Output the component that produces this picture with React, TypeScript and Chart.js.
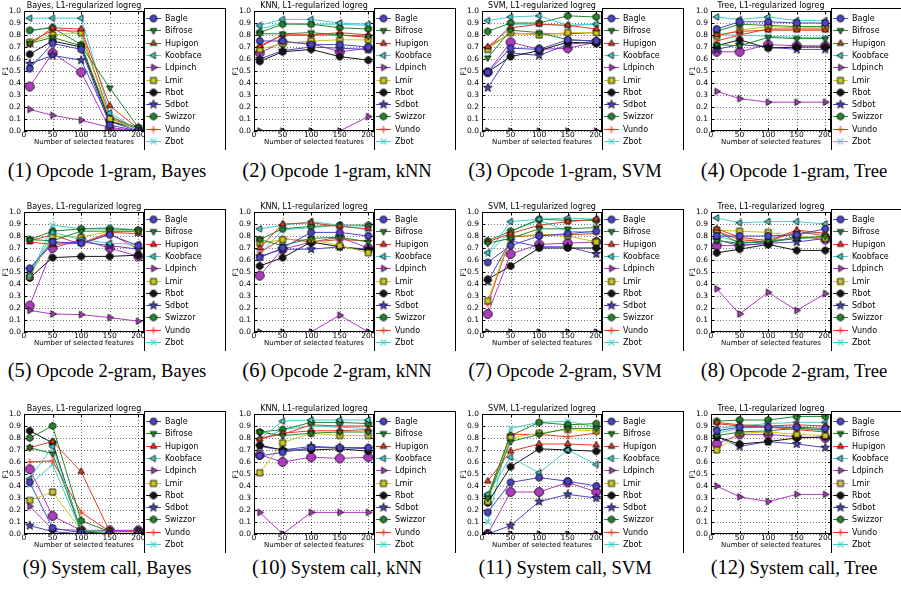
import React, { useEffect, useRef } from 'react';
import { Chart, registerables } from 'chart.js';

Chart.register(...registerables);

// ---------- data ----------
const featureCounts = [10, 50, 100, 150, 200];
const xTickValues = [0, 50, 100, 150, 200];
const yTickValues = [0, 0.1, 0.2, 0.3, 0.4, 0.5, 0.6, 0.7, 0.8, 0.9, 1.0];

const familyNames = ['Bagle', 'Bifrose', 'Hupigon', 'Koobface', 'Ldpinch', 'Lmir', 'Rbot', 'Sdbot', 'Swizzor', 'Vundo', 'Zbot', 'Family 12'];
const legendCount = 11; // the 12th legend entry is cut off in the original figure

const panelTitles = ['Bayes, L1-regularized logreg', 'KNN, L1-regularized logreg', 'SVM, L1-regularized logreg', 'Tree, L1-regularized logreg'];
const featureSets = ['Opcode 1-gram', 'Opcode 2-gram', 'System call'];
const classifierNames = ['Bayes', 'kNN', 'SVM', 'Tree'];

// rows: Bagle, Bifrose, Hupigon, Koobface, Ldpinch, Lmir, Rbot, Sdbot, Swizzor, Vundo, Zbot, Family 12
const opcode1Bayes = [
  [0.52, 0.73, 0.68, 0.05, 0.0],
  [0.73, 0.78, 0.71, 0.36, 0.03],
  [0.72, 0.86, 0.85, 0.21, 0.02],
  [0.94, 0.94, 0.94, 0.15, 0.01],
  [0.18, 0.13, 0.09, 0.03, 0.0],
  [0.74, 0.80, 0.82, 0.10, 0.01],
  [0.64, 0.75, 0.70, 0.08, 0.02],
  [0.56, 0.63, 0.59, 0.08, 0.0],
  [0.84, 0.86, 0.72, 0.10, 0.03],
  [0.74, 0.84, 0.83, 0.12, 0.02],
  [0.83, 0.87, 0.80, 0.13, 0.01],
  [0.37, 0.65, 0.49, 0.02, 0.0],
];
const opcode1Knn = [
  [0.75, 0.75, 0.72, 0.72, 0.70],
  [0.81, 0.81, 0.82, 0.80, 0.79],
  [0.71, 0.80, 0.80, 0.82, 0.80],
  [0.88, 0.93, 0.93, 0.90, 0.89],
  [0.0, 0.0, 0.0, 0.0, 0.12],
  [0.68, 0.73, 0.75, 0.76, 0.76],
  [0.58, 0.66, 0.68, 0.62, 0.59],
  [0.60, 0.67, 0.70, 0.69, 0.68],
  [0.82, 0.89, 0.89, 0.86, 0.85],
  [0.70, 0.80, 0.80, 0.80, 0.78],
  [0.85, 0.90, 0.89, 0.89, 0.88],
  [0.65, 0.74, 0.73, 0.66, 0.69],
];
const opcode1Svm = [
  [0.49, 0.69, 0.68, 0.76, 0.75],
  [0.61, 0.84, 0.82, 0.76, 0.75],
  [0.70, 0.86, 0.89, 0.88, 0.85],
  [0.92, 0.95, 0.96, 0.88, 0.89],
  [0.0, 0.0, 0.0, 0.0, 0.0],
  [0.68, 0.82, 0.80, 0.82, 0.82],
  [0.49, 0.62, 0.67, 0.74, 0.73],
  [0.36, 0.65, 0.63, 0.72, 0.75],
  [0.83, 0.90, 0.90, 0.96, 0.95],
  [0.70, 0.81, 0.81, 0.81, 0.82],
  [0.67, 0.89, 0.89, 0.88, 0.89],
  [0.49, 0.74, 0.68, 0.69, 0.74],
];
const opcode1Tree = [
  [0.85, 0.91, 0.91, 0.90, 0.90],
  [0.72, 0.71, 0.78, 0.77, 0.77],
  [0.80, 0.83, 0.84, 0.84, 0.84],
  [0.95, 0.93, 0.95, 0.92, 0.92],
  [0.33, 0.27, 0.24, 0.24, 0.24],
  [0.79, 0.84, 0.87, 0.86, 0.86],
  [0.71, 0.76, 0.69, 0.70, 0.70],
  [0.68, 0.72, 0.70, 0.68, 0.68],
  [0.83, 0.89, 0.88, 0.87, 0.87],
  [0.75, 0.80, 0.85, 0.85, 0.85],
  [0.80, 0.80, 0.79, 0.78, 0.78],
  [0.66, 0.66, 0.72, 0.71, 0.71],
];
const opcode2Bayes = [
  [0.53, 0.75, 0.74, 0.81, 0.72],
  [0.77, 0.76, 0.84, 0.84, 0.84],
  [0.75, 0.73, 0.74, 0.83, 0.82],
  [0.47, 0.83, 0.77, 0.74, 0.73],
  [0.18, 0.15, 0.145, 0.12, 0.09],
  [0.46, 0.80, 0.79, 0.84, 0.84],
  [0.45, 0.62, 0.63, 0.63, 0.64],
  [0.52, 0.74, 0.75, 0.72, 0.69],
  [0.77, 0.84, 0.86, 0.86, 0.85],
  [0.76, 0.81, 0.73, 0.82, 0.69],
  [0.46, 0.89, 0.86, 0.87, 0.85],
  [0.22, 0.70, 0.77, 0.70, 0.63],
];
const opcode2Knn = [
  [0.62, 0.70, 0.83, 0.83, 0.80],
  [0.77, 0.72, 0.78, 0.79, 0.75],
  [0.70, 0.90, 0.91, 0.88, 0.86],
  [0.86, 0.89, 0.92, 0.89, 0.88],
  [0.0, 0.0, 0.0, 0.14, 0.0],
  [0.74, 0.77, 0.77, 0.72, 0.66],
  [0.55, 0.62, 0.75, 0.71, 0.68],
  [0.63, 0.69, 0.69, 0.71, 0.69],
  [0.77, 0.86, 0.88, 0.89, 0.89],
  [0.66, 0.78, 0.75, 0.77, 0.76],
  [0.65, 0.85, 0.87, 0.89, 0.85],
  [0.47, 0.69, 0.75, 0.79, 0.70],
];
const opcode2Svm = [
  [0.58, 0.72, 0.80, 0.82, 0.84],
  [0.74, 0.78, 0.86, 0.86, 0.87],
  [0.75, 0.82, 0.89, 0.92, 0.94],
  [0.66, 0.92, 0.94, 0.95, 0.94],
  [0.0, 0.0, 0.0, 0.0, 0.0],
  [0.26, 0.80, 0.81, 0.80, 0.75],
  [0.44, 0.55, 0.70, 0.70, 0.70],
  [0.42, 0.76, 0.71, 0.71, 0.65],
  [0.76, 0.84, 0.94, 0.93, 0.93],
  [0.23, 0.79, 0.81, 0.81, 0.82],
  [0.65, 0.84, 0.93, 0.84, 0.83],
  [0.15, 0.65, 0.73, 0.74, 0.75],
];
const opcode2Tree = [
  [0.80, 0.80, 0.80, 0.81, 0.86],
  [0.76, 0.74, 0.76, 0.78, 0.80],
  [0.86, 0.79, 0.76, 0.85, 0.82],
  [0.95, 0.91, 0.92, 0.92, 0.90],
  [0.36, 0.15, 0.33, 0.18, 0.32],
  [0.85, 0.84, 0.83, 0.80, 0.78],
  [0.66, 0.69, 0.73, 0.68, 0.68],
  [0.77, 0.72, 0.74, 0.75, 0.78],
  [0.84, 0.74, 0.75, 0.78, 0.79],
  [0.84, 0.77, 0.75, 0.84, 0.80],
  [0.80, 0.75, 0.78, 0.82, 0.83],
  [0.72, 0.72, 0.74, 0.80, 0.77],
];
const syscallBayes = [
  [0.43, 0.05, 0.01, 0.0, 0.0],
  [0.72, 0.67, 0.03, 0.0, 0.0],
  [0.72, 0.77, 0.52, 0.02, 0.02],
  [0.46, 0.73, 0.03, 0.02, 0.02],
  [0.23, 0.04, 0.03, 0.03, 0.03],
  [0.28, 0.35, 0.03, 0.02, 0.02],
  [0.86, 0.76, 0.02, 0.0, 0.0],
  [0.07, 0.02, 0.0, 0.0, 0.0],
  [0.80, 0.90, 0.11, 0.02, 0.02],
  [0.60, 0.61, 0.18, 0.02, 0.02],
  [0.41, 0.58, 0.02, 0.02, 0.02],
  [0.54, 0.15, 0.03, 0.03, 0.03],
];
const syscallKnn = [
  [0.65, 0.68, 0.72, 0.72, 0.72],
  [0.85, 0.82, 0.84, 0.85, 0.85],
  [0.79, 0.84, 0.86, 0.86, 0.87],
  [0.79, 0.94, 0.95, 0.95, 0.95],
  [0.18, 0.0, 0.18, 0.18, 0.18],
  [0.51, 0.76, 0.84, 0.82, 0.82],
  [0.74, 0.70, 0.70, 0.71, 0.69],
  [0.73, 0.70, 0.73, 0.72, 0.71],
  [0.85, 0.87, 0.93, 0.93, 0.92],
  [0.80, 0.83, 0.91, 0.90, 0.90],
  [0.78, 0.87, 0.90, 0.89, 0.88],
  [0.66, 0.60, 0.64, 0.63, 0.64],
];
const syscallSvm = [
  [0.18, 0.43, 0.47, 0.44, 0.40],
  [0.30, 0.77, 0.83, 0.88, 0.88],
  [0.44, 0.69, 0.75, 0.75, 0.74],
  [0.33, 0.64, 0.51, 0.70, 0.58],
  [0.0, 0.0, 0.0, 0.0, 0.0],
  [0.27, 0.80, 0.84, 0.87, 0.86],
  [0.26, 0.56, 0.71, 0.70, 0.69],
  [0.0, 0.07, 0.27, 0.33, 0.30],
  [0.32, 0.82, 0.93, 0.91, 0.92],
  [0.31, 0.83, 0.83, 0.81, 0.84],
  [0.10, 0.88, 0.93, 0.94, 0.89],
  [0.0, 0.35, 0.35, 0.43, 0.35],
];
const syscallTree = [
  [0.86, 0.89, 0.89, 0.89, 0.88],
  [0.82, 0.85, 0.86, 0.88, 0.87],
  [0.93, 0.91, 0.90, 0.91, 0.90],
  [0.88, 0.90, 0.92, 0.93, 0.93],
  [0.40, 0.31, 0.27, 0.33, 0.33],
  [0.70, 0.84, 0.85, 0.83, 0.82],
  [0.81, 0.75, 0.77, 0.80, 0.81],
  [0.81, 0.73, 0.77, 0.75, 0.72],
  [0.94, 0.95, 0.95, 0.98, 0.98],
  [0.92, 0.90, 0.89, 0.87, 0.85],
  [0.84, 0.88, 0.90, 0.88, 0.86],
  [0.75, 0.83, 0.83, 0.81, 0.80],
];

const panelData = [
  [opcode1Bayes, opcode1Knn, opcode1Svm, opcode1Tree],
  [opcode2Bayes, opcode2Knn, opcode2Svm, opcode2Tree],
  [syscallBayes, syscallKnn, syscallSvm, syscallTree],
];

// ---------- styling ----------
const BLUE = '#4b45c8';
const GREEN = '#23882a';
const RED = '#e6391f';
const CYAN = '#45cfcf';
const MAGENTA = '#ad3cbf';
const YELLOW = '#c9c81e';
const BLACK = '#141414';
const familyColors = [BLUE, GREEN, RED, CYAN, MAGENTA, YELLOW, BLACK, BLUE, GREEN, RED, CYAN, MAGENTA];
const familyMarkers = ['circle', 'triDown', 'triUp', 'triLeft', 'triRight', 'square', 'octagon', 'star', 'hexagon', 'plus', 'cross', 'octagonBig'];

const FONT = '"DejaVu Sans", Verdana, sans-serif';
const CW = 230; // canvas width
const CH = 150; // canvas height
const PLOT_LEFT = 24;
const PLOT_TOP = 11;
const PLOT_RIGHT = 144;
const PLOT_BOTTOM = 131;
const X_AXIS_H = 18;
const X_MAX = 210;
const colLefts = [0, 230, 458, 687];
const rowTops = [0, 201, 403];
const captionTops = [159, 359, 556];

function makeMarker(kind: string, color: string): HTMLCanvasElement {
  const big = kind === 'octagonBig';
  const size = big ? 9 : kind === 'star' ? 8.6 : kind === 'square' ? 6 : 6.9;
  const s = 14;
  const c = document.createElement('canvas');
  c.width = s;
  c.height = s;
  const ctx = c.getContext('2d')!;
  const cx = s / 2;
  const cy = s / 2;
  const r = size / 2;
  ctx.lineWidth = 0.8;
  ctx.strokeStyle = '#000';
  ctx.fillStyle = color;
  const poly = (n: number, start: number, rad: number) => {
    ctx.beginPath();
    for (let k = 0; k < n; k++) {
      const a = start + (k * 2 * Math.PI) / n;
      const px = cx + rad * Math.cos(a);
      const py = cy + rad * Math.sin(a);
      if (k === 0) ctx.moveTo(px, py);
      else ctx.lineTo(px, py);
    }
    ctx.closePath();
  };
  if (kind === 'plus' || kind === 'cross') {
    ctx.strokeStyle = color;
    ctx.lineWidth = 1.1;
    ctx.beginPath();
    if (kind === 'plus') {
      ctx.moveTo(cx - r, cy); ctx.lineTo(cx + r, cy);
      ctx.moveTo(cx, cy - r); ctx.lineTo(cx, cy + r);
    } else {
      const d = r * 0.8;
      ctx.moveTo(cx - d, cy - d); ctx.lineTo(cx + d, cy + d);
      ctx.moveTo(cx - d, cy + d); ctx.lineTo(cx + d, cy - d);
    }
    ctx.stroke();
    return c;
  }
  switch (kind) {
    case 'circle':
      ctx.beginPath();
      ctx.arc(cx, cy, r, 0, Math.PI * 2);
      break;
    case 'triUp': poly(3, -Math.PI / 2, r * 1.1); break;
    case 'triDown': poly(3, Math.PI / 2, r * 1.1); break;
    case 'triLeft': poly(3, Math.PI, r * 1.1); break;
    case 'triRight': poly(3, 0, r * 1.1); break;
    case 'square': poly(4, Math.PI / 4, r * Math.SQRT2); break;
    case 'hexagon': poly(6, -Math.PI / 2, r * 1.05); break;
    case 'octagon':
    case 'octagonBig': poly(8, Math.PI / 8, r * 1.04); break;
    case 'star': {
      ctx.beginPath();
      for (let k = 0; k < 10; k++) {
        const a = -Math.PI / 2 + (k * Math.PI) / 5;
        const rad = k % 2 === 0 ? r * 1.05 : r * 0.42;
        const px = cx + rad * Math.cos(a);
        const py = cy + rad * Math.sin(a);
        if (k === 0) ctx.moveTo(px, py);
        else ctx.lineTo(px, py);
      }
      ctx.closePath();
      break;
    }
  }
  ctx.fill();
  ctx.stroke();
  return c;
}

let spriteCache: HTMLCanvasElement[] | null = null;
function getSprites(): HTMLCanvasElement[] {
  if (!spriteCache) spriteCache = familyMarkers.map((m, i) => makeMarker(m, familyColors[i]));
  return spriteCache;
}

function makeDecorPlugin(title: string) {
  return {
    id: 'decor',
    beforeDatasetsDraw(chart: any) {
      const { ctx, chartArea: a, scales } = chart;
      const xs = scales.x;
      const ys = scales.y;
      ctx.save();
      ctx.strokeStyle = 'rgba(0,0,0,0.55)';
      ctx.lineWidth = 1;
      ctx.setLineDash([1, 2]);
      ctx.beginPath();
      xTickValues.forEach((v) => {
        const px = Math.round(xs.getPixelForValue(v)) + 0.5;
        ctx.moveTo(px, a.top);
        ctx.lineTo(px, a.bottom);
      });
      yTickValues.forEach((v) => {
        const py = Math.round(ys.getPixelForValue(v)) + 0.5;
        ctx.moveTo(a.left, py);
        ctx.lineTo(a.right, py);
      });
      ctx.stroke();
      ctx.setLineDash([]);
      ctx.restore();
    },
    afterDraw(chart: any) {
      const { ctx, chartArea: a, scales } = chart;
      const xs = scales.x;
      const ys = scales.y;
      ctx.save();
      // inward tick marks
      ctx.strokeStyle = '#000';
      ctx.lineWidth = 1;
      ctx.beginPath();
      xTickValues.forEach((v) => {
        const px = Math.round(xs.getPixelForValue(v)) + 0.5;
        ctx.moveTo(px, a.bottom); ctx.lineTo(px, a.bottom - 3);
        ctx.moveTo(px, a.top); ctx.lineTo(px, a.top + 3);
      });
      yTickValues.forEach((v) => {
        const py = Math.round(ys.getPixelForValue(v)) + 0.5;
        ctx.moveTo(a.left, py); ctx.lineTo(a.left + 3, py);
        ctx.moveTo(a.right, py); ctx.lineTo(a.right - 3, py);
      });
      ctx.stroke();
      // frame
      ctx.strokeRect(Math.round(a.left) + 0.5, Math.round(a.top) + 0.5, Math.round(a.width) - 1, Math.round(a.height) - 1);
      // title
      ctx.fillStyle = '#000';
      ctx.font = `8px ${FONT}`;
      ctx.textAlign = 'center';
      ctx.textBaseline = 'middle';
      ctx.fillText(title, (a.left + a.right) / 2, a.top - 5.5);
      // legend
      const lx = Math.round(a.right);
      const ly = Math.round(a.top) - 3;
      const lw = 82;
      ctx.fillStyle = '#fff';
      ctx.fillRect(lx, ly, lw, CH - ly + 2);
      ctx.strokeStyle = '#000';
      ctx.strokeRect(lx + 0.5, ly + 0.5, lw - 1, CH - ly + 4);
      const sprites = getSprites();
      for (let i = 0; i < legendCount; i++) {
        const ey = Math.round(a.top + 7 + i * 12.3);
        ctx.strokeStyle = familyColors[i];
        ctx.lineWidth = 1;
        ctx.beginPath();
        ctx.moveTo(lx + 2, ey + 0.5);
        ctx.lineTo(lx + 17, ey + 0.5);
        ctx.stroke();
        const sp = sprites[i];
        ctx.drawImage(sp, lx + 9.5 - sp.width / 2, ey + 0.5 - sp.height / 2);
        ctx.fillStyle = '#000';
        ctx.font = `8px ${FONT}`;
        ctx.textAlign = 'left';
        ctx.textBaseline = 'middle';
        ctx.fillText(familyNames[i], lx + 21, ey + 0.5);
      }
      ctx.restore();
    },
  };
}

function Panel({ rows, title, left, top }: { rows: number[][]; title: string; left: number; top: number }) {
  const ref = useRef<HTMLCanvasElement>(null);
  useEffect(() => {
    const canvas = ref.current!;
    const sprites = getSprites();
    const datasets = familyNames.map((name, i) => ({
      label: name,
      data: featureCounts.map((x, j) => ({ x, y: rows[i][j] })),
      borderColor: familyColors[i],
      backgroundColor: familyColors[i],
      borderWidth: 1,
      pointStyle: sprites[i] as any,
      pointRadius: 4,
      pointHoverRadius: 4,
      tension: 0,
      fill: false,
    }));
    const tickFont = { family: FONT, size: 7.5 };
    const chart = new Chart(canvas, {
      type: 'line',
      data: { datasets },
      options: {
        animation: false,
        responsive: false,
        devicePixelRatio: 1,
        events: [],
        layout: { padding: { left: 0, top: PLOT_TOP, right: CW - PLOT_RIGHT, bottom: CH - PLOT_BOTTOM - X_AXIS_H } },
        plugins: { legend: { display: false }, tooltip: { enabled: false }, title: { display: false } },
        scales: {
          x: {
            type: 'linear',
            min: 0,
            max: X_MAX,
            afterBuildTicks: (s: any) => { s.ticks = xTickValues.map((v) => ({ value: v })); },
            afterFit: (s: any) => { s.height = X_AXIS_H; },
            grid: { display: false, drawTicks: false },
            border: { display: false },
            ticks: { font: tickFont, color: '#000', padding: 0, maxRotation: 0, autoSkip: false, callback: (v: any) => String(v) },
            title: { display: true, text: 'Number of selected features', font: { family: FONT, size: 7 }, color: '#000', padding: { top: 0, bottom: 3 } },
          },
          y: {
            type: 'linear',
            min: 0,
            max: 1,
            afterBuildTicks: (s: any) => { s.ticks = yTickValues.map((v) => ({ value: v })); },
            afterFit: (s: any) => { s.width = PLOT_LEFT; },
            grid: { display: false, drawTicks: false },
            border: { display: false },
            ticks: { font: tickFont, color: '#000', padding: 3, autoSkip: false, callback: (v: any) => Number(v).toFixed(1) },
            title: { display: true, text: 'F1', font: { family: FONT, size: 7.5 }, color: '#000', padding: { top: 2, bottom: 0 } },
          },
        },
      } as any,
      plugins: [makeDecorPlugin(title)],
    });
    return () => chart.destroy();
  }, [rows, title]);
  return (
    <canvas
      ref={ref}
      width={CW}
      height={CH}
      style={{ position: 'absolute', left, top, width: CW, height: CH }}
    />
  );
}

export default function App() {
  const panels: React.ReactNode[] = [];
  const captions: React.ReactNode[] = [];
  let n = 1;
  for (let r = 0; r < 3; r++) {
    for (let c = 0; c < 4; c++) {
      panels.push(
        <Panel key={`p${r}${c}`} rows={panelData[r][c]} title={panelTitles[c]} left={colLefts[c]} top={rowTops[r]} />
      );
      captions.push(
        <div
          key={`c${r}${c}`}
          style={{
            position: 'absolute',
            left: colLefts[c] - 12,
            top: captionTops[r],
            width: 238,
            textAlign: 'center',
            fontFamily: '"Liberation Serif", "Times New Roman", serif',
            fontSize: 18.5,
            lineHeight: '22px',
            color: '#000',
            whiteSpace: 'nowrap',
          }}
        >
          <span style={{ fontSize: 20.5 }}>({n})</span> {featureSets[r]}, {classifierNames[c]}
        </div>
      );
      n++;
    }
  }
  return (
    <div style={{ position: 'absolute', left: 0, top: 0, width: 901, height: 589, background: '#fff', overflow: 'hidden' }}>
      {panels}
      {captions}
    </div>
  );
}
